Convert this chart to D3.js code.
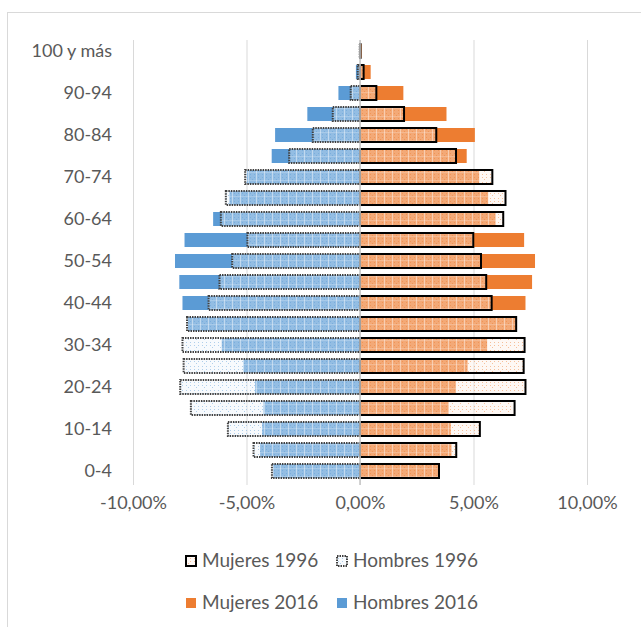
<!DOCTYPE html>
<html><head><meta charset="utf-8">
<script src="https://cdn.jsdelivr.net/npm/d3@7"></script>
<style>
html,body{margin:0;padding:0;background:#fff;}
svg{display:block;}
text{font-family:Lato,"Open Sans",sans-serif;fill:#595959;}
</style></head>
<body><svg id="c" width="641" height="627"></svg>
<script>
const ages = ["0-4","5-9","10-14","15-19","20-24","25-29","30-34","35-39","40-44","45-49","50-54","55-59","60-64","65-69","70-74","75-79","80-84","85-89","90-94","95-99","100 y más"];
const ageLabels = ["0-4","","10-14","","20-24","","30-34","","40-44","","50-54","","60-64","","70-74","","80-84","","90-94","","100 y más"];
const hombres2016 = [3.82,4.40,4.31,4.25,4.62,5.13,6.09,7.58,7.82,7.96,8.15,7.73,6.47,5.75,4.98,3.89,3.74,2.32,0.95,0.18,0.02];
const hombres1996 = [3.88,4.69,5.82,7.45,7.92,7.77,7.82,7.62,6.67,6.19,5.63,4.96,6.13,5.91,5.06,3.12,2.08,1.20,0.41,0.10,0.01];
const mujeres2016 = [3.50,4.03,4.00,3.92,4.22,4.74,5.60,6.90,7.29,7.58,7.71,7.23,5.97,5.65,5.25,4.70,5.06,3.81,1.91,0.47,0.07];
const mujeres1996 = [3.48,4.24,5.28,6.81,7.29,7.21,7.25,6.88,5.80,5.56,5.33,4.99,6.31,6.41,5.83,4.23,3.36,1.94,0.72,0.16,0.02];
const tickValues = [-10,-5,0,5,10];
const tickLabels = ["-10,00%","-5,00%","0,00%","5,00%","10,00%"];
const legendItems = ["Mujeres 1996","Hombres 1996","Mujeres 2016","Hombres 2016"];

const BLUE = "#5b9bd5", ORANGE = "#ed7d31";
const svg = d3.select("#c");

// frame
svg.append("rect").attr("x",7.5).attr("y",12.5).attr("width",700).attr("height",700)
  .attr("fill","none").attr("stroke","#d9d9d9").attr("stroke-width",1);

// patterns
const defs = svg.append("defs");
function makePattern(id, color){
  const p = defs.append("pattern").attr("id",id).attr("patternUnits","userSpaceOnUse")
    .attr("width",8).attr("height",8);
  p.append("rect").attr("width",8).attr("height",8).attr("fill","#fff").attr("fill-opacity",0.36);
  p.append("rect").attr("x",0).attr("y",0).attr("width",1).attr("height",8).attr("fill","#fff").attr("fill-opacity",0.45);
  p.append("rect").attr("x",0).attr("y",4).attr("width",8).attr("height",1).attr("fill","#fff").attr("fill-opacity",0.2);
  [[2,1],[6,1],[2,6],[6,6],[4,3]].forEach(([a,b])=>{
    p.append("rect").attr("x",a).attr("y",b).attr("width",1).attr("height",1).attr("fill",color).attr("fill-opacity",0.45);
  });
  p.append("rect").attr("width",8).attr("height",8).attr("fill",color).attr("fill-opacity",0.05);
  return "url(#"+id+")";
}
const patM = makePattern("pm", ORANGE);
const patH = makePattern("ph", BLUE);

const x = d3.scaleLinear().domain([-10,10]).range([133,587]);
const y = d3.scaleBand().domain(ages.slice().reverse()).range([40.5,481.5])
  .paddingInner(0.333).paddingOuter(0.1667);

// gridlines
svg.append("g").selectAll("line").data(tickValues).join("line")
  .attr("x1",d=>x(d)+0.5).attr("x2",d=>x(d)+0.5).attr("y1",40).attr("y2",485)
  .attr("stroke","#d9d9d9").attr("stroke-width",1);

const rows = ages.map((a,i)=>({a,h16:hombres2016[i],h96:hombres1996[i],m16:mujeres2016[i],m96:mujeres1996[i]}));
const g = svg.append("g");
// 2016 bars
g.selectAll(".h16").data(rows).join("rect")
  .attr("x",d=>x(-d.h16)).attr("width",d=>x(0)-x(-d.h16))
  .attr("y",d=>y(d.a)).attr("height",y.bandwidth()).attr("fill",BLUE);
g.selectAll(".m16").data(rows).join("rect")
  .attr("x",x(0)).attr("width",d=>x(d.m16)-x(0))
  .attr("y",d=>y(d.a)).attr("height",y.bandwidth()).attr("fill",ORANGE);
// 1996 bars
g.selectAll(".h96").data(rows).join("rect")
  .attr("x",d=>x(-d.h96)).attr("width",d=>x(0)-x(-d.h96))
  .attr("y",d=>y(d.a)).attr("height",y.bandwidth()).attr("fill",patH)
  .attr("stroke","#404040").attr("stroke-width",2).attr("stroke-dasharray","1.5,1");
g.selectAll(".m96").data(rows).join("rect")
  .attr("x",x(0)).attr("width",d=>x(d.m96)-x(0))
  .attr("y",d=>y(d.a)).attr("height",y.bandwidth()).attr("fill",patM)
  .attr("stroke","#000").attr("stroke-width",2);

// zero axis line
svg.append("line").attr("x1",x(0)).attr("x2",x(0)).attr("y1",40).attr("y2",485)
  .attr("stroke","#c9c9c9").attr("stroke-width",1.6);

// x axis labels
const xa = svg.append("g").attr("transform","translate(0,496)")
  .call(d3.axisBottom(x).tickValues(tickValues).tickSize(0).tickPadding(0)
    .tickFormat((d,i)=>tickLabels[i]));
xa.select(".domain").remove();
xa.selectAll("text").attr("font-size","18px").attr("fill","#595959").attr("font-family","Lato,sans-serif");

// y axis labels
const ya = svg.append("g").attr("transform","translate(112,0)")
  .call(d3.axisLeft(y).tickSize(0).tickPadding(0)
    .tickFormat(d=>ageLabels[ages.indexOf(d)]));
ya.select(".domain").remove();
ya.selectAll("text").attr("font-size","18px").attr("fill","#595959").attr("font-family","Lato,sans-serif").attr("dy","0.36em");

// legend
const leg = [
  {t:legendItems[0], mx:186, my:556, tx:202, ty:567, fill:patM, stroke:"#000", dash:null},
  {t:legendItems[1], mx:337, my:556, tx:353, ty:567, fill:patH, stroke:"#404040", dash:"1.5,1"},
  {t:legendItems[2], mx:186, my:598, tx:202, ty:609, fill:ORANGE, stroke:null, dash:null},
  {t:legendItems[3], mx:337, my:598, tx:353, ty:609, fill:BLUE, stroke:null, dash:null}
];
const lg = svg.append("g");
leg.forEach(d=>{
  const r = lg.append("rect").attr("x",d.mx).attr("y",d.my).attr("width",10).attr("height",10)
    .attr("fill",d.fill);
  if(d.stroke){ r.attr("stroke",d.stroke).attr("stroke-width",2); if(d.dash) r.attr("stroke-dasharray",d.dash); }
  lg.append("text").attr("x",d.tx).attr("y",d.ty).attr("font-size","19px").text(d.t);
});
</script></body></html>
